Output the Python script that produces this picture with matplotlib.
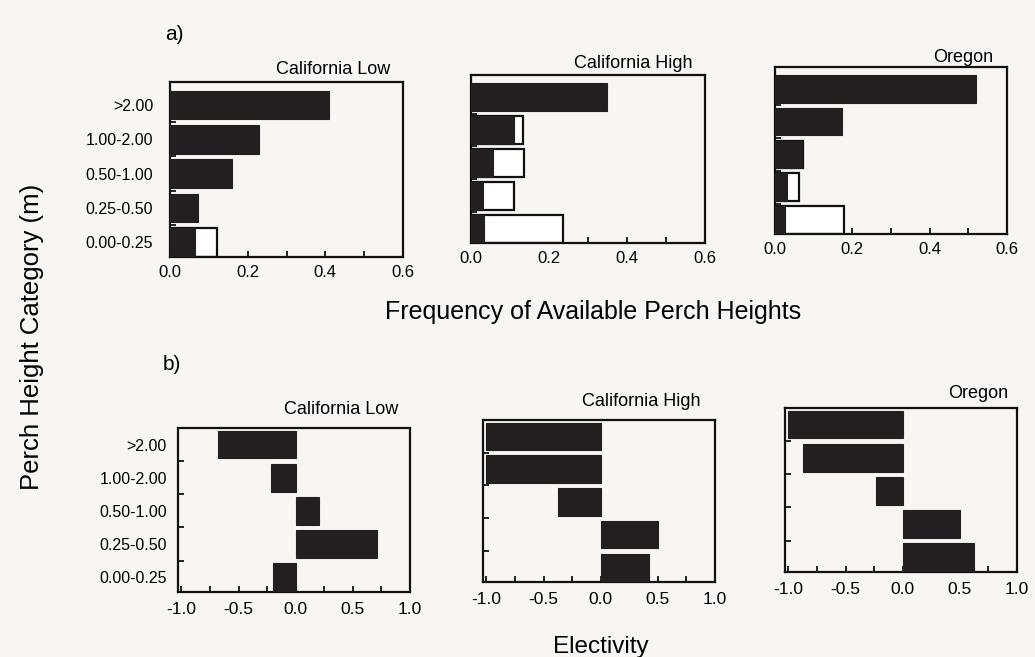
import numpy as np
import matplotlib
matplotlib.use("Agg")
import matplotlib.pyplot as plt
from matplotlib.ticker import MultipleLocator, FixedLocator

plt.rcParams['font.family'] = ['Liberation Sans', 'DejaVu Sans']

# ---------------- data ----------------
categories = ['0.00-0.25', '0.25-0.50', '0.50-1.00', '1.00-2.00', '>2.00']
sites = ['California Low', 'California High', 'Oregon']

# frequency of available perch heights (dark bars)
avail_ca_low = [0.065, 0.073, 0.16, 0.228, 0.41]
avail_ca_high = [0.034, 0.030, 0.056, 0.110, 0.348]
avail_oregon = [0.026, 0.030, 0.070, 0.172, 0.52]

# frequency of used perch heights (open bars, only visible where > available)
used_ca_low = [0.12, np.nan, np.nan, np.nan, np.nan]
used_ca_high = [0.236, 0.110, 0.135, 0.133, np.nan]
used_oregon = [0.178, 0.063, 0.072, np.nan, np.nan]

# electivity
elect_ca_low = [-0.20, 0.71, 0.20, -0.22, -0.68]
elect_ca_high = [0.42, 0.50, -0.37, -1.00, -1.00]
elect_oregon = [0.62, 0.50, -0.23, -0.87, -1.00]

avail = [avail_ca_low, avail_ca_high, avail_oregon]
used = [used_ca_low, used_ca_high, used_oregon]
elect = [elect_ca_low, elect_ca_high, elect_oregon]

# ---------------- layout ----------------
W, H = 1035, 657
BG = '#f7f6f2'
DARK = '#231f20'
fig = plt.figure(figsize=(W / 100, H / 100), dpi=100, facecolor=BG)


def add_ax(l, t, r, b):
    ax = fig.add_axes([l / W, 1 - b / H, (r - l) / W, (b - t) / H])
    ax.set_facecolor(BG)
    for s in ax.spines.values():
        s.set_linewidth(1.6)
        s.set_color('#111111')
    return ax


def ftext(x, y, s, **kw):
    fig.text(x / W, 1 - y / H, s, **kw)


top_boxes = [(170, 82, 403, 257), (471, 75, 705, 243), (775, 67, 1007, 234)]
bot_boxes = [(178, 428, 410, 592), (483, 420, 715, 582), (785, 408, 1017, 572)]
top_titles = [(390, 69), (693, 63), (993, 57)]
bot_titles = [(398, 409), (700, 402), (1008, 393)]

ypos = np.arange(len(categories))
bh = 0.84

for i in range(3):
    # ---- top row: available vs used ----
    ax = add_ax(*top_boxes[i])
    u = np.array(used[i], dtype=float)
    m = ~np.isnan(u)
    ax.barh(ypos[m], u[m], height=bh, color='white', edgecolor='#111111',
            linewidth=1.6, zorder=2)
    ax.barh(ypos, avail[i], height=bh, color=DARK, edgecolor=DARK,
            linewidth=0.8, zorder=3)
    ax.set_xlim(0, 0.6)
    ax.set_ylim(-0.43, 4.67)
    ax.xaxis.set_major_locator(MultipleLocator(0.2))
    ax.xaxis.set_minor_locator(MultipleLocator(0.1))
    ax.set_xticklabels([f'{v:.1f}' for v in ax.get_xticks()])
    ax.tick_params(axis='x', which='both', direction='in', length=4,
                   width=1.2, labelsize=12, pad=6)
    ax.yaxis.set_major_locator(FixedLocator(ypos))
    ax.yaxis.set_minor_locator(FixedLocator(ypos[:-1] + 0.5))
    ax.tick_params(axis='y', which='major', length=0, pad=12, labelsize=11.5)
    ax.tick_params(axis='y', which='minor', direction='in', length=4, width=1.2)
    if i == 0:
        ax.set_yticklabels(categories)
    else:
        ax.set_yticklabels([])
    ftext(*top_titles[i], sites[i], ha='right', va='center', fontsize=13)

    # ---- bottom row: electivity ----
    ax = add_ax(*bot_boxes[i])
    ax.barh(ypos, elect[i], height=bh, color=DARK, edgecolor=DARK,
            linewidth=0.8, zorder=3)
    ax.set_xlim(-1.03, 1.0)
    ax.set_ylim(-0.45, 4.5)
    ax.xaxis.set_major_locator(FixedLocator([-1.0, -0.5, 0.0, 0.5, 1.0]))
    ax.xaxis.set_minor_locator(MultipleLocator(0.25))
    ax.set_xticklabels(['-1.0', '-0.5', '0.0', '0.5', '1.0'])
    ax.tick_params(axis='x', which='both', direction='in', length=4,
                   width=1.2, labelsize=12.5, pad=7)
    ax.yaxis.set_major_locator(FixedLocator(ypos))
    ax.yaxis.set_minor_locator(FixedLocator(ypos[:-1] + 0.5))
    ax.tick_params(axis='y', which='major', length=0, pad=8, labelsize=11.5)
    ax.tick_params(axis='y', which='minor', direction='in', length=4, width=1.2)
    if i == 0:
        ax.set_yticklabels(categories)
    else:
        ax.set_yticklabels([])
    ftext(*bot_titles[i], sites[i], ha='right', va='center', fontsize=13)

# ---------------- labels ----------------
ftext(165, 34, 'a)', ha='left', va='center', fontsize=15)
ftext(163, 365, 'b)', ha='left', va='center', fontsize=15)
ftext(593, 312, 'Frequency of Available Perch Heights', ha='center',
      va='center', fontsize=18)
ftext(601, 647, 'Electivity', ha='center', va='center', fontsize=17.5)
ftext(32, 337, 'Perch Height Category (m)', ha='center', va='center',
      rotation=90, fontsize=18.5)

fig.savefig('out.png', dpi=100, facecolor=BG)
